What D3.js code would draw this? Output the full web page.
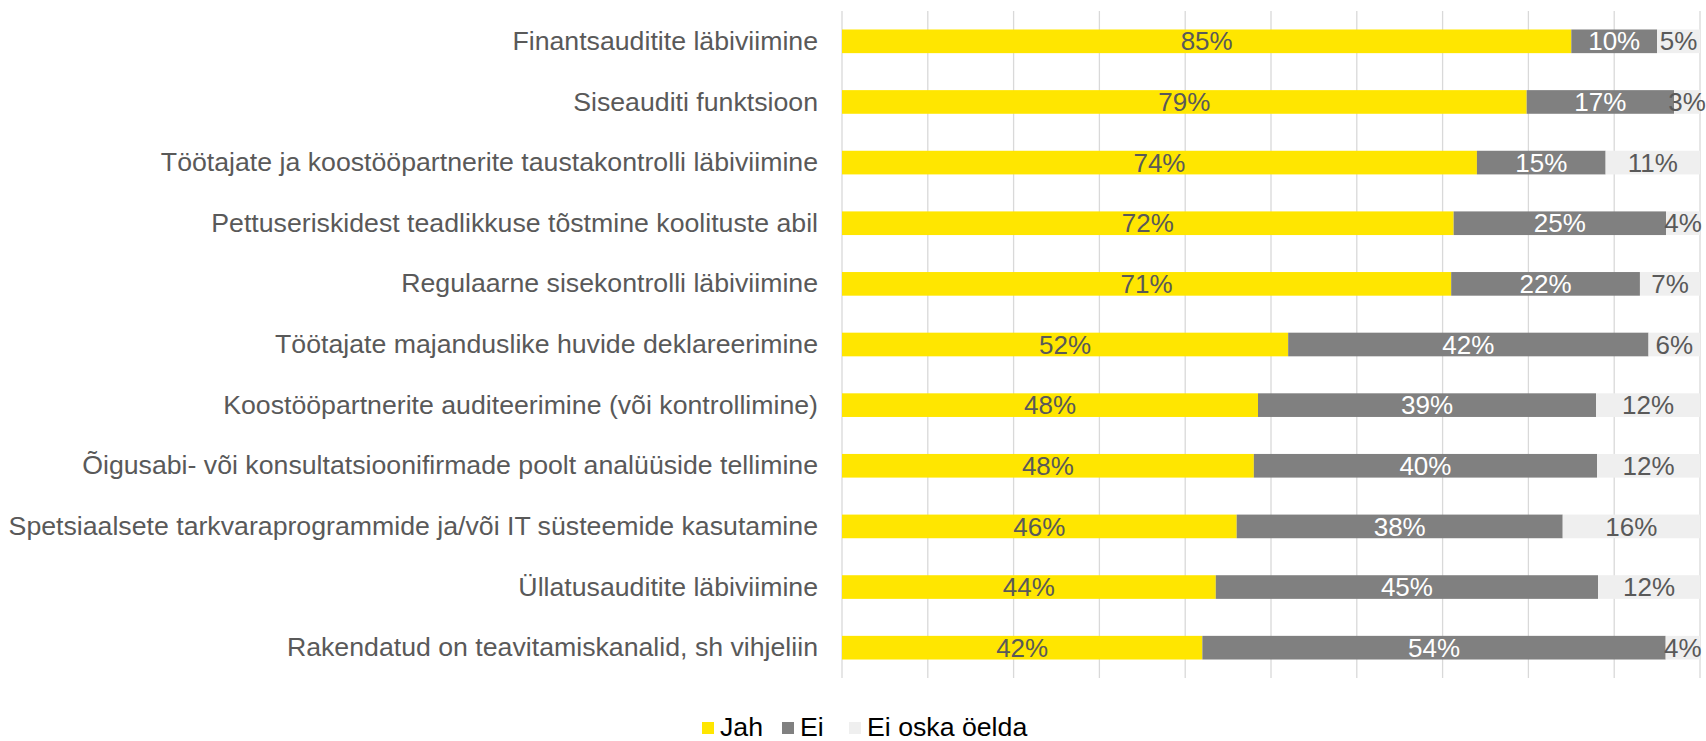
<!DOCTYPE html>
<html>
<head>
<meta charset="utf-8">
<script src="https://cdn.jsdelivr.net/npm/d3@7"></script>
<style>
    body { margin: 0; background: #fff; }
    svg { display: block; font-family: "Liberation Sans", Arial, sans-serif; }
</style>
</head>
<body>
<svg id="chart" width="1706" height="741"></svg>
<script>
const categories = [
    'Finantsauditite läbiviimine',
    'Siseauditi funktsioon',
    'Töötajate ja koostööpartnerite taustakontrolli läbiviimine',
    'Pettuseriskidest teadlikkuse tõstmine koolituste abil',
    'Regulaarne sisekontrolli läbiviimine',
    'Töötajate majanduslike huvide deklareerimine',
    'Koostööpartnerite auditeerimine (või kontrollimine)',
    'Õigusabi- või konsultatsioonifirmade poolt analüüside tellimine',
    'Spetsiaalsete tarkvaraprogrammide ja/või IT süsteemide kasutamine',
    'Üllatusauditite läbiviimine',
    'Rakendatud on teavitamiskanalid, sh vihjeliin'
];

const jah = [85, 79, 74, 72, 71, 52, 48, 48, 46, 44, 42];
const ei = [10, 17, 15, 25, 22, 42, 39, 40, 38, 45, 54];
const eiOska = [5, 3, 11, 4, 7, 6, 12, 12, 16, 12, 4];

const seriesNames = ['Jah', 'Ei', 'Ei oska öelda'];
const seriesColors = ['#FFE600', '#808080', '#EFEFEF'];
const labelColors = ['#595959', '#FFFFFF', '#595959'];
const xTicks = d3.range(0, 1.01, 0.1);

const width = 1706;
const margin = { top: 11, right: 6, bottom: 63, left: 842 };
const height = 741;

const svg = d3.select('#chart');

// 100% stacked: every row normalised to its own total
const rows = categories.map((c, i) => {
    const total = jah[i] + ei[i] + eiOska[i];
    return { cat: c, vals: [jah[i], ei[i], eiOska[i]], total: total };
});

const x = d3.scaleLinear()
    .domain([0, 1])
    .range([margin.left, width - margin.right]);

const y = d3.scaleBand()
    .domain(categories)
    .range([margin.top, height - margin.bottom])
    .paddingInner(0.61)
    .paddingOuter(0.305);

// gridlines
svg.append('g')
    .selectAll('line')
    .data(xTicks).enter()
    .append('line')
        .attr('x1', d => x(d))
        .attr('x2', d => x(d))
        .attr('y1', margin.top)
        .attr('y2', height - margin.bottom)
        .attr('stroke', '#D9D9D9')
        .attr('stroke-width', 1.3);

// bars
const rowG = svg.append('g')
    .selectAll('g')
    .data(rows).enter()
    .append('g');

rowG.each(function(r) {
    const g = d3.select(this);
    let acc = 0;
    r.vals.forEach((v, k) => {
        const x0 = acc / r.total;
        acc += v;
        const x1 = acc / r.total;
        g.append('rect')
            .attr('x', x(x0))
            .attr('y', y(r.cat))
            .attr('width', x(x1) - x(x0))
            .attr('height', y.bandwidth())
            .attr('fill', seriesColors[k]);
        g.append('text')
            .attr('x', (x(x0) + x(x1)) / 2)
            .attr('y', y(r.cat) + y.bandwidth() / 2)
            .attr('dy', '0.35em')
            .attr('text-anchor', 'middle')
            .attr('font-size', 26)
            .attr('fill', labelColors[k])
            .text(v + '%');
    });
});

// category labels
const yAxis = d3.axisLeft(y).tickSize(0).tickPadding(24);
const yg = svg.append('g')
    .attr('transform', 'translate(' + margin.left + ',0)')
    .call(yAxis);
yg.select('.domain').remove();
yg.selectAll('text')
    .attr('font-size', 26.7)
    .attr('font-family', '"Liberation Sans", Arial, sans-serif')
    .attr('fill', '#595959');

// legend
const legendX = [702, 782, 849];
const legendY = 727;
const legend = svg.append('g')
    .selectAll('g')
    .data(seriesNames).enter()
    .append('g')
        .attr('transform', (d, i) => 'translate(' + legendX[i] + ',' + legendY + ')');

legend.append('rect')
    .attr('x', 0)
    .attr('y', -5)
    .attr('width', 12)
    .attr('height', 12)
    .attr('fill', (d, i) => seriesColors[i]);

legend.append('text')
    .attr('x', 18)
    .attr('dy', '0.35em')
    .attr('font-size', 26.7)
    .attr('fill', '#000')
    .text(d => d);
</script>
</body>
</html>
